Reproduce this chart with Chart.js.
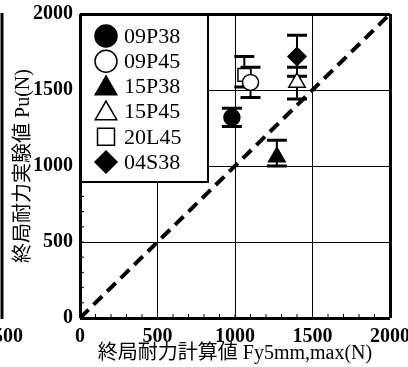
<!DOCTYPE html>
<html>
<head>
<meta charset="utf-8">
<script src="https://cdn.jsdelivr.net/npm/chart.js@4.4.1/dist/chart.umd.min.js"></script>
<style>
  html, body { margin: 0; padding: 0; background: #fff; }
  #wrap { position: relative; width: 408px; height: 367px; }
</style>
</head>
<body>
<div id="wrap"><canvas id="chart" width="408" height="367"></canvas></div>
<script>
const seriesNames = ["09P38", "09P45", "15P38", "15P45", "20L45", "04S38"];
const calcValues = [980, 1100, 1270, 1400, 1060, 1400];
const testValues = [1320, 1550, 1060, 1550, 1600, 1720];
const testLow = [1260, 1450, 1000, 1440, 1520, 1590];
const testHigh = [1380, 1650, 1170, 1650, 1720, 1860];
const pointStyles = ["circle", "circle", "triangle", "triangle", "rect", "rectRot"];
const filled = [true, false, true, false, false, true];
const tickValues = [0, 500, 1000, 1500, 2000];
const lineX = [0, 2000];
const lineY = [0, 2000];

const serif = '"Liberation Serif", "Times New Roman", serif';
const titleFont = '"Liberation Serif", "Noto Sans CJK JP", serif';

function markerRadius(style) {
  if (style === "circle") return 8;
  if (style === "triangle") return 9.5;
  return 9;
}

// error bars + inward minor ticks
const errorBars = {
  id: "errorBars",
  beforeDatasetsDraw(chart) {
    const { ctx, scales: { x, y }, chartArea: a } = chart;
    ctx.save();
    ctx.strokeStyle = "#000";
    ctx.lineWidth = 1;
    ctx.beginPath();
    for (let v = 100; v < 2000; v += 100) {
      const px = x.getPixelForValue(v);
      ctx.moveTo(px, a.bottom);
      ctx.lineTo(px, a.bottom - 4);
      const py = y.getPixelForValue(v);
      ctx.moveTo(a.left, py);
      ctx.lineTo(a.left + 4, py);
    }
    ctx.stroke();

    seriesNames.forEach((name, i) => {
      const px = x.getPixelForValue(calcValues[i]);
      const top = y.getPixelForValue(testHigh[i]);
      const bot = y.getPixelForValue(testLow[i]);
      ctx.lineWidth = 2;
      ctx.beginPath();
      ctx.moveTo(px, top);
      ctx.lineTo(px, bot);
      ctx.stroke();
      ctx.lineWidth = 3;
      ctx.beginPath();
      ctx.moveTo(px - 10, top);
      ctx.lineTo(px + 10, top);
      ctx.moveTo(px - 10, bot);
      ctx.lineTo(px + 10, bot);
      ctx.stroke();
    });
    ctx.restore();
  }
};

// legend box in the upper left corner of the plot
const legendBox = {
  id: "legendBox",
  afterDraw(chart) {
    const { ctx, chartArea: a } = chart;
    ctx.save();
    ctx.fillStyle = "#fff";
    ctx.fillRect(a.left + 2, a.top + 2, 126, 166);
    ctx.strokeStyle = "#000";
    ctx.lineWidth = 2;
    ctx.beginPath();
    ctx.moveTo(a.left, a.top + 168);
    ctx.lineTo(a.left + 128, a.top + 168);
    ctx.lineTo(a.left + 128, a.top);
    ctx.stroke();

    const legendRadius = { circle: 11, triangle: 12.5, rect: 12, rectRot: 11 };
    seriesNames.forEach((name, i) => {
      const cy = a.top + 22 + i * 25.2;
      ctx.fillStyle = filled[i] ? "#000" : "#fff";
      ctx.strokeStyle = "#000";
      ctx.lineWidth = 1.5;
      Chart.helpers.drawPoint(ctx, {
        pointStyle: pointStyles[i],
        radius: legendRadius[pointStyles[i]],
        borderWidth: 1.5,
        rotation: 0
      }, a.left + 26, cy + (pointStyles[i] === "triangle" ? 2 : 0));
      ctx.fillStyle = "#000";
      ctx.font = "22px " + serif;
      ctx.textBaseline = "middle";
      ctx.textAlign = "left";
      ctx.fillText(name, a.left + 44, cy + 1);
    });
    ctx.restore();
  }
};

// edge of the neighbouring panel at the far left
const leftPanel = {
  id: "leftPanel",
  afterDraw(chart) {
    const { ctx, chartArea: a } = chart;
    ctx.save();
    ctx.strokeStyle = "#000";
    ctx.lineWidth = 3;
    ctx.beginPath();
    ctx.moveTo(2, a.top - 1);
    ctx.lineTo(2, a.bottom + 1);
    ctx.stroke();
    ctx.fillStyle = "#000";
    ctx.font = "bold 20px " + serif;
    ctx.textAlign = "right";
    ctx.textBaseline = "middle";
    ctx.fillText("500", 23, 337);
    ctx.restore();
  }
};

const datasets = seriesNames.map((name, i) => ({
  type: "scatter",
  label: name,
  data: [{ x: calcValues[i], y: testValues[i] }],
  pointStyle: pointStyles[i],
  pointRadius: markerRadius(pointStyles[i]),
  backgroundColor: filled[i] ? "#000" : "#fff",
  borderColor: "#000",
  borderWidth: 1.5
}));

datasets.push({
  type: "line",
  label: "y=x",
  data: lineX.map((v, i) => ({ x: v, y: lineY[i] })),
  borderColor: "#000",
  borderWidth: 4,
  borderDash: [12, 7],
  pointRadius: 0,
  fill: false
});

function setTicks(scale) {
  scale.ticks = tickValues.map(v => ({ value: v }));
}

function edgeWidth(ctx) {
  const v = ctx.tick.value;
  return (v === 0 || v === 2000) ? 3 : 1;
}

new Chart(document.getElementById("chart"), {
  data: { datasets },
  plugins: [errorBars, legendBox, leftPanel],
  options: {
    responsive: false,
    animation: false,
    events: [],
    layout: { padding: { left: 0, right: 18, top: 14, bottom: 0 } },
    plugins: {
      legend: { display: false },
      tooltip: { enabled: false }
    },
    scales: {
      x: {
        type: "linear",
        min: 0,
        max: 2000,
        afterBuildTicks: setTicks,
        afterFit(s) { s.height = 49; s.paddingLeft = 0; s.paddingRight = 0; },
        grid: { color: "#000", lineWidth: edgeWidth, drawTicks: false },
        border: { display: false },
        ticks: {
          color: "#000",
          padding: 7,
          maxRotation: 0,
          autoSkip: false,
          callback: v => String(v),
          font: { family: serif, size: 20, weight: "bold" }
        },
        title: {
          display: true,
          text: "終局耐力計算値 Fy5mm,max(N)",
          color: "#000",
          font: { family: titleFont, size: 20 },
          padding: { top: 0, bottom: 1 }
        }
      },
      y: {
        type: "linear",
        min: 0,
        max: 2000,
        afterBuildTicks: setTicks,
        afterFit(s) { s.width = 80; s.paddingTop = 0; s.paddingBottom = 0; },
        grid: { color: "#000", lineWidth: edgeWidth, drawTicks: false },
        border: { display: false },
        ticks: {
          color: "#000",
          padding: 7,
          callback: v => String(v),
          font: { family: serif, size: 20, weight: "bold" }
        },
        title: {
          display: true,
          text: "終局耐力実験値 Pu(N)",
          color: "#000",
          font: { family: titleFont, size: 20 },
          padding: { top: 12, bottom: 0 }
        }
      }
    }
  }
});
</script>
</body>
</html>
